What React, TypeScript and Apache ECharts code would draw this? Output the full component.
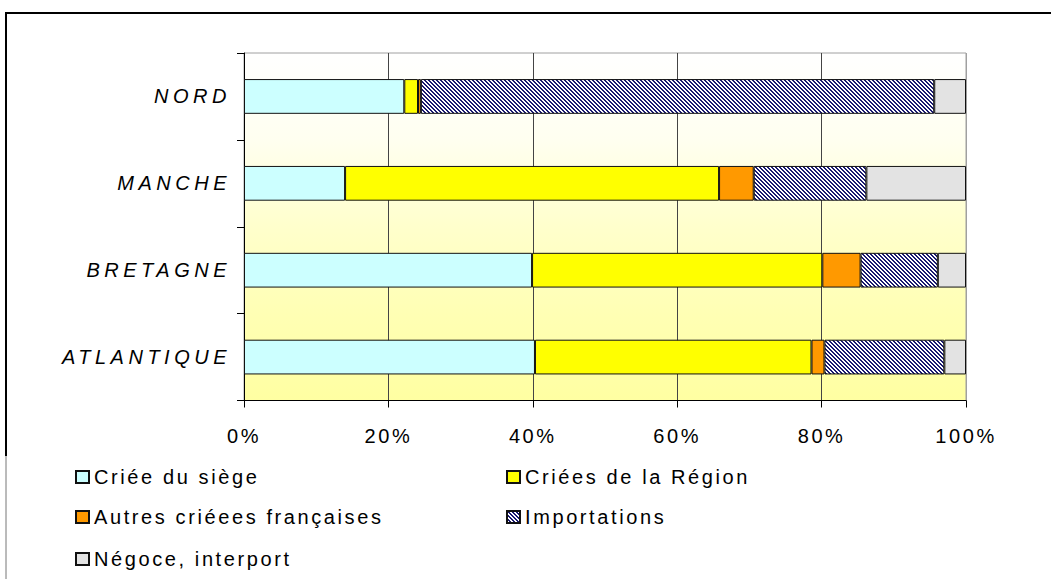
import React, { useEffect, useRef } from 'react';
import * as echarts from 'echarts';

const categories = ['NORD', 'MANCHE', 'BRETAGNE', 'ATLANTIQUE'];
const seriesNames = [
  'Criée du siège',
  'Criées de la Région',
  'Autres criéees françaises',
  'Importations',
  'Négoce, interport',
];
const crieeDuSiege = [22.2, 14.0, 39.9, 40.3];
const crieesRegion = [1.9, 51.8, 40.2, 38.3];
const autresCriees = [0.4, 4.8, 5.3, 1.8];
const importations = [71.1, 15.6, 10.7, 16.6];
const negoce = [4.4, 13.8, 3.9, 3.0];
const xTickValues = [0, 20, 40, 60, 80, 100];

function makeHatch() {
  const c = document.createElement('canvas');
  c.width = 8;
  c.height = 8;
  const ctx = c.getContext('2d')!;
  ctx.fillStyle = '#ffffff';
  ctx.fillRect(0, 0, 8, 8);
  ctx.fillStyle = '#1a1a70';
  for (let y = 0; y < 8; y++) {
    for (let x = 0; x < 8; x++) {
      if ((((x - y) % 4) + 4) % 4 < 2) ctx.fillRect(x, y, 1, 1);
    }
  }
  return c.toDataURL();
}

export default function App() {
  const ref = useRef<HTMLDivElement>(null);
  useEffect(() => {
    if (!ref.current) return;
    const chart = echarts.init(ref.current, null, { renderer: 'svg' });
    const hatch = { image: makeHatch(), repeat: 'repeat', imageWidth: 8, imageHeight: 8 } as any;
    const colors: any[] = ['#CCFFFF', '#FFFF00', '#FF9900', hatch, '#E3E3E3'];
    const values = [crieeDuSiege, crieesRegion, autresCriees, importations, negoce];
    const font = 'Liberation Sans';
    const legendPos = [
      { left: 75, top: 467 },
      { left: 506, top: 467 },
      { left: 75, top: 507 },
      { left: 506, top: 507 },
      { left: 75, top: 549 },
    ];
    chart.setOption({
      animation: false,
      grid: {
        left: 244,
        top: 53,
        width: 722,
        height: 347.5,
        show: true,
        borderColor: '#a0a0a0',
        borderWidth: 1,
        backgroundColor: new echarts.graphic.LinearGradient(0, 0, 0, 1, [
          { offset: 0, color: '#ffffff' },
          { offset: 0.25, color: '#fffff0' },
          { offset: 0.5, color: '#ffffcc' },
          { offset: 0.75, color: '#ffffb4' },
          { offset: 1, color: '#ffffa2' },
        ]),
      },
      xAxis: {
        type: 'value',
        min: 0,
        max: 100,
        interval: 20,
        axisLine: { show: true, lineStyle: { color: '#000', width: 1 } },
        axisTick: { show: true, length: 7, lineStyle: { color: '#000' } },
        axisLabel: {
          formatter: (v: number) => (xTickValues.includes(v) ? v + '%' : ''),
          color: '#000',
          fontSize: 20,
          fontFamily: font,
          margin: 25,
        },
        splitLine: {
          show: true,
          lineStyle: { color: ['#444', '#444', '#444', '#444', '#444', '#a0a0a0'], width: 1 },
        },
      },
      yAxis: {
        type: 'category',
        data: categories,
        inverse: true,
        axisLine: { show: true, lineStyle: { color: '#000', width: 1 } },
        axisTick: { show: true, length: 7, lineStyle: { color: '#000' } },
        axisLabel: {
          color: '#000',
          fontSize: 20,
          fontStyle: 'italic',
          fontFamily: font,
          margin: 13,
        },
        splitLine: { show: false },
      },
      legend: seriesNames.map((n, i) => ({
        data: [n],
        left: legendPos[i].left,
        top: legendPos[i].top,
        itemWidth: 13,
        itemHeight: 12,
        icon: 'rect',
        padding: 0,
        selectedMode: false,
        textStyle: { color: '#000', fontSize: 20, fontFamily: font },
      })),
      series: seriesNames.map((n, i) => ({
        name: n,
        type: 'bar',
        stack: 'total',
        barWidth: '40%',
        data: values[i],
        itemStyle: { color: colors[i], borderColor: '#111', borderWidth: 1 },
      })),
      graphic: [
        { type: 'line', shape: { x1: 5, y1: 13, x2: 1051, y2: 13 }, style: { stroke: '#000', lineWidth: 2 } },
        { type: 'line', shape: { x1: 6, y1: 12, x2: 6, y2: 456 }, style: { stroke: '#000', lineWidth: 2 } },
        { type: 'line', shape: { x1: 6, y1: 456, x2: 6, y2: 579 }, style: { stroke: '#777', lineWidth: 1 } },
      ],
    });
    return () => chart.dispose();
  }, []);
  return (
    <>
      <style>{`#chart-box text { letter-spacing: 2.6px; } #chart-box text[style*="italic"] { letter-spacing: 4.5px; }`}</style>
      <div
        id="chart-box"
        ref={ref}
        style={{
          position: 'fixed',
          left: 0,
          top: 0,
          width: 1051,
          height: 579,
          background: '#fff',
        }}
      />
    </>
  );
}
